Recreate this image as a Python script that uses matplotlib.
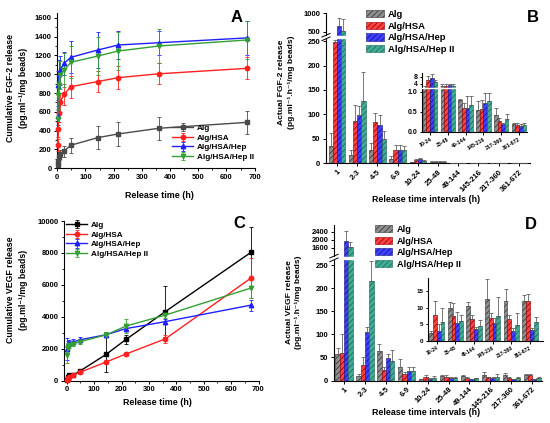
import numpy as np
import matplotlib
matplotlib.use('Agg')
import matplotlib.pyplot as plt
from matplotlib.ticker import AutoMinorLocator, FixedLocator

plt.rcParams['font.family'] = ['Liberation Sans', 'DejaVu Sans']
plt.rcParams['font.weight'] = 'bold'
plt.rcParams['axes.labelweight'] = 'bold'
plt.rcParams['hatch.linewidth'] = 0.55
plt.rcParams['axes.linewidth'] = 0.8

# ---- data ----
series = ['Alg', 'Alg/HSA', 'Alg/HSA/Hep', 'Alg/HSA/Hep II']
times = [1, 3, 5, 9, 24, 48, 144, 216, 360, 672]
intervals = ['1', '2-3', '4-5', '6-9', '10-24', '25-48', '49-144', '145-216', '217-360', '361-672']

# A: cumulative FGF-2
fgf_alg = [35, 70, 120, 155, 182, 245, 326, 365, 425, 488]
fgf_hsa = [248, 414, 584, 700, 786, 867, 922, 963, 1004, 1062]
fgf_hep = [560, 880, 1000, 1040, 1115, 1179, 1257, 1310, 1334, 1385]
fgf_hep2 = [520, 780, 880, 990, 1040, 1126, 1193, 1246, 1299, 1363]
fgf_alg_err = [20, 25, 30, 35, 60, 80, 124, 130, 125, 120]
fgf_hsa_err = [60, 80, 90, 100, 110, 115, 115, 120, 110, 117]
fgf_hep_err = [100, 150, 150, 150, 120, 170, 190, 150, 130, 180]
fgf_hep2_err = [100, 150, 150, 150, 180, 170, 200, 200, 180, 200]

# B: FGF-2 release rate
rate_fgf_alg = [34, 17, 27, 8, 1.6, 2.6, 0.80, 0.56, 0.42, 0.20]
rate_fgf_hsa = [248, 86, 84, 27, 5.8, 2.8, 0.60, 0.58, 0.28, 0.18]
rate_fgf_hep = [660, 99, 77, 27, 7.2, 3.0, 0.60, 0.72, 0.19, 0.16]
rate_fgf_hep2 = [520, 127, 49, 26, 4.9, 2.5, 0.68, 0.77, 0.33, 0.18]
rate_fgf_alg_err = [28, 10, 15, 6, 1, 1, 0.03, 0.22, 0.18, 0.03]
rate_fgf_hsa_err = [30, 32, 19, 9, 2.4, 1, 0.12, 0.22, 0.07, 0.04]
rate_fgf_hep_err = [210, 17, 22, 9, 2.5, 1, 0.30, 0.26, 0.03, 0.05]
rate_fgf_hep2_err = [320, 59, 16, 8, 1, 1, 0.22, 0.20, 0.12, 0.05]

# C: cumulative VEGF
vegf_alg = [58, 80, 205, 330, 365, 600, 1650, 2580, 4330, 8030]
vegf_hsa = [60, 125, 170, 230, 347, 527, 1170, 1670, 2620, 6420]
vegf_hep = [2000, 2210, 2310, 2390, 2430, 2560, 2880, 3260, 3700, 4730]
vegf_hep2 = [1600, 2050, 2140, 2220, 2300, 2440, 2870, 3420, 4110, 5800]
vegf_alg_err = [30, 40, 50, 60, 80, 100, 1100, 300, 1600, 1600]
vegf_hsa_err = [50, 60, 60, 80, 100, 100, 150, 150, 250, 1250]
vegf_hep_err = [700, 150, 150, 150, 150, 150, 150, 150, 150, 350]
vegf_hep2_err = [500, 150, 150, 150, 150, 150, 150, 450, 200, 600]

# D: VEGF release rate
rate_vegf_alg = [58, 10, 65, 30, 2.5, 10.1, 10.6, 12.8, 12.1, 12.0]
rate_vegf_hsa = [60, 33, 22, 15, 7.8, 7.5, 6.5, 7.0, 6.5, 12.1]
rate_vegf_hep = [1950, 105, 49, 20, 3.0, 5.3, 3.5, 5.3, 3.0, 3.3]
rate_vegf_hep2 = [1620, 216, 42, 20, 5.6, 6.0, 4.6, 7.6, 4.8, 5.6]
rate_vegf_alg_err = [13, 5, 15, 17, 0.5, 1.7, 1.2, 6.0, 3.5, 1.8]
rate_vegf_hsa_err = [40, 18, 7, 3, 4.2, 4.1, 1.3, 1.3, 1.3, 2.2]
rate_vegf_hep_err = [500, 12, 9, 9, 2.0, 3.3, 0.8, 1.5, 0.8, 0.5]
rate_vegf_hep2_err = [250, 46, 25, 9, 4.4, 1.8, 1.7, 5.7, 3.5, 1.7]

line_colors_a = ['#4a4a4a', '#ff2020', '#1f1fff', '#33a033']
line_colors_c = ['#000000', '#ff2020', '#1f1fff', '#33a033']
markers = ['s', 'o', '^', 'v']
bar_faces = ['#8f8f8f', '#ff4040', '#4040ff', '#42ad96']
bar_hatch = ['#333333', '#900000', '#14148a', '#1a6656']

W, H = 550, 423
fig = plt.figure(figsize=(W / 100, H / 100), dpi=100)


def px_axes(l, t, r, b):
    return fig.add_axes([l / W, 1 - b / H, (r - l) / W, (b - t) / H])


def piecewise(xp, fp):
    xp = np.asarray(xp, float)
    fp = np.asarray(fp, float)

    def mk(a, b):
        def f(v):
            v = np.asarray(v, float)
            out = np.interp(v, a, b)
            s0 = (b[1] - b[0]) / (a[1] - a[0])
            s1 = (b[-1] - b[-2]) / (a[-1] - a[-2])
            out = np.where(v < a[0], b[0] + (v - a[0]) * s0, out)
            out = np.where(v > a[-1], b[-1] + (v - a[-1]) * s1, out)
            return out
        return f
    return mk(xp, fp), mk(fp, xp)


def style(ax, size=5.5, minor=True):
    for s in ['top', 'right']:
        ax.spines[s].set_visible(False)
    ax.tick_params(direction='out', length=2.5, width=0.7, labelsize=size, pad=1.5)
    ax.tick_params(which='minor', direction='out', length=1.4, width=0.6)
    if minor:
        ax.xaxis.set_minor_locator(AutoMinorLocator(2))
        ax.yaxis.set_minor_locator(AutoMinorLocator(2))
    for lab in ax.get_xticklabels() + ax.get_yticklabels():
        lab.set_fontweight('bold')


def ftext(x, y, s, **kw):
    fig.text(x / W, 1 - y / H, s, **kw)


def line_panel(ax, ys, errs, colors):
    for y, e, c, m, lab in zip(ys, errs, colors, markers, series):
        ax.errorbar(times, y, yerr=e, color=c, marker=m, ms=3.2, lw=1.0,
                    elinewidth=0.6, capsize=1.6, capthick=0.6, label=lab,
                    clip_on=False, zorder=3)


def bar_panel(ax, vals, errs, idx, width=0.205):
    x = np.arange(len(idx))
    for k, (v, e) in enumerate(zip(vals, errs)):
        v = np.asarray(v)[idx]
        e = np.asarray(e)[idx]
        pos = x + (k - 1.5) * width
        ax.bar(pos, v, width, color=bar_faces[k], edgecolor=bar_hatch[k],
               hatch='//////', lw=0.4, label=series[k], zorder=2)
        ax.errorbar(pos, v, yerr=[np.zeros_like(e), e], fmt='none', ecolor='#555555',
                    elinewidth=0.55, capsize=1.3, capthick=0.55, zorder=3)
    return x


def break_mark(ax, yb):
    ax.add_patch(plt.Rectangle((0, yb - 0.007), 1, 0.014, transform=ax.transAxes,
                               color='white', zorder=6, clip_on=False))
    for d in (-0.012, 0.012):
        ax.plot([-0.02, 0.02], [yb + d - 0.012, yb + d + 0.012], transform=ax.transAxes,
                color='black', lw=0.7, clip_on=False, zorder=7)


def bar_legend(ax, x, y, size):
    leg = ax.legend(loc='upper left', bbox_to_anchor=(x / W, 1 - y / H), bbox_transform=fig.transFigure,
                    frameon=False, fontsize=size, handlelength=1.9, handleheight=0.8,
                    handletextpad=0.45, labelspacing=0.28, borderaxespad=0, borderpad=0)
    leg.set_zorder(20)


# ---- A ----
axA = px_axes(57.3, 13, 254.6, 168.3)
line_panel(axA, [fgf_alg, fgf_hsa, fgf_hep, fgf_hep2],
           [fgf_alg_err, fgf_hsa_err, fgf_hep_err, fgf_hep2_err], line_colors_a)
axA.set_xlim(0, 700)
axA.set_ylim(0, 1650)
axA.set_xticks(range(0, 701, 100))
axA.set_yticks(range(0, 1601, 200))
style(axA)
axA.legend(loc='upper left', bbox_to_anchor=(172 / W, 1 - 124 / H), bbox_transform=fig.transFigure,
           frameon=False, fontsize=5.9, handlelength=2.6, handletextpad=0.4,
           labelspacing=0.25, borderaxespad=0, borderpad=0)
ftext(159, 195, 'Release time (h)', ha='center', va='center', fontsize=6.4)
ftext(17, 88, 'Cumulative FGF-2 release\n(pg.ml\u207b\u00b9/mg beads)', rotation=90,
      ha='center', va='center', fontsize=6.3, linespacing=1.5)
ftext(237, 17, 'A', ha='center', va='center', fontsize=12)

# ---- C ----
axC = px_axes(64, 221, 258.5, 380.7)
line_panel(axC, [vegf_alg, vegf_hsa, vegf_hep, vegf_hep2],
           [vegf_alg_err, vegf_hsa_err, vegf_hep_err, vegf_hep2_err], line_colors_c)
axC.set_xlim(-10, 700)
axC.set_ylim(0, 10000)
axC.set_xticks(range(0, 701, 100))
axC.set_yticks(range(0, 10001, 2000))
style(axC)
axC.legend(loc='upper left', bbox_to_anchor=(66 / W, 1 - 221 / H), bbox_transform=fig.transFigure,
           frameon=False, fontsize=5.9, handlelength=2.6, handletextpad=0.4,
           labelspacing=0.25, borderaxespad=0, borderpad=0)
ftext(157, 402, 'Release time (h)', ha='center', va='center', fontsize=6.4)
ftext(17, 290, 'Cumulative VEGF release\n(pg.ml\u207b\u00b9/mg beads)', rotation=90,
      ha='center', va='center', fontsize=6.3, linespacing=1.5)
ftext(239, 223, 'C', ha='center', va='center', fontsize=12)

# ---- B ----
axB = px_axes(326, 13, 530, 163)
fwdB, invB = piecewise([0, 250, 1000], [0, 250, 307.75])
axB.set_yscale('function', functions=(fwdB, invB))
all_idx = list(range(10))
xb = bar_panel(axB, [rate_fgf_alg, rate_fgf_hsa, rate_fgf_hep, rate_fgf_hep2],
               [rate_fgf_alg_err, rate_fgf_hsa_err, rate_fgf_hep_err, rate_fgf_hep2_err], all_idx)
axB.set_xlim(-0.545, 9.55)
axB.set_ylim(0, 1000)
axB.yaxis.set_major_locator(FixedLocator([0, 50, 100, 150, 200, 250, 500, 1000]))
style(axB, minor=False)
axB.set_xticks(xb)
axB.set_xticklabels(intervals, rotation=45, ha='right', rotation_mode='anchor', fontweight='bold')
break_mark(axB, 0.84)
bar_legend(axB, 366, 10, 6.8)
ftext(426, 199, 'Release time intervals (h)', ha='center', va='center', fontsize=6.4)
ftext(286.5, 82, 'Actual FGF-2 release\n(pg.ml\u207b\u00b9.h\u207b\u00b9/mg beads)', rotation=90,
      ha='center', va='center', fontsize=6.1, linespacing=1.35)
ftext(533, 17, 'B', ha='center', va='center', fontsize=12)

# B inset
axBi = px_axes(422, 73, 527, 132)
axBi.patch.set_alpha(0)
fwdBi, invBi = piecewise([0, 1.1, 1.7, 10], [0, 1.1, 1.11, 1.11 + 8.3 * 0.04375])
axBi.set_yscale('function', functions=(fwdBi, invBi))
small_idx = list(range(4, 10))
xbi = bar_panel(axBi, [rate_fgf_alg, rate_fgf_hsa, rate_fgf_hep, rate_fgf_hep2],
                [rate_fgf_alg_err, rate_fgf_hsa_err, rate_fgf_hep_err, rate_fgf_hep2_err], small_idx)
axBi.set_xlim(-0.45, 5.45)
axBi.set_ylim(0, 10)
axBi.yaxis.set_major_locator(FixedLocator([0, 0.5, 1.0, 4, 8]))
axBi.set_yticklabels(['0.0', '0.5', '1.0', '4', '8'])
style(axBi, size=5, minor=False)
axBi.set_xticks(xbi)
axBi.set_xticklabels(intervals[4:], rotation=30, ha='right', rotation_mode='anchor',
                     fontsize=3.8, fontweight='bold')
axBi.tick_params(length=1.8)
axBi.axhline(1.2, color='white', lw=1.0, zorder=6)

# ---- D ----
axD = px_axes(334, 225, 542, 380.5)
fwdD, invD = piecewise([0, 260, 1000, 3000], [0, 260, 262, 262 + 2000 * 0.043])
axD.set_yscale('function', functions=(fwdD, invD))
xd = bar_panel(axD, [rate_vegf_alg, rate_vegf_hsa, rate_vegf_hep, rate_vegf_hep2],
               [rate_vegf_alg_err, rate_vegf_hsa_err, rate_vegf_hep_err, rate_vegf_hep2_err], all_idx)
axD.set_xlim(-0.48, 9.47)
axD.set_ylim(0, 2744)
axD.yaxis.set_major_locator(FixedLocator([0, 50, 100, 150, 200, 250, 1600, 2000, 2400]))
style(axD, minor=False)
axD.set_xticks(xd)
axD.set_xticklabels(intervals, rotation=45, ha='right', rotation_mode='anchor', fontweight='bold')
break_mark(axD, 0.788)
bar_legend(axD, 375, 225, 6.6)
ftext(426, 412, 'Release time intervals (h)', ha='center', va='center', fontsize=6.4)
ftext(294, 302, 'Actual VEGF release\n(pg.ml\u207b\u00b9.h\u207b\u00b9/mg beads)', rotation=90,
      ha='center', va='center', fontsize=6.1, linespacing=1.35)
ftext(531, 224, 'D', ha='center', va='center', fontsize=12)

# D inset
axDi = px_axes(428, 278, 543, 341)
axDi.patch.set_alpha(0)
xdi = bar_panel(axDi, [rate_vegf_alg, rate_vegf_hsa, rate_vegf_hep, rate_vegf_hep2],
                [rate_vegf_alg_err, rate_vegf_hsa_err, rate_vegf_hep_err, rate_vegf_hep2_err], small_idx)
axDi.set_xlim(-0.47, 5.7)
axDi.set_ylim(0, 19)
axDi.set_yticks([0, 5, 10, 15])
style(axDi, size=4.5, minor=False)
axDi.set_xticks(xdi)
axDi.set_xticklabels(intervals[4:], rotation=30, ha='right', rotation_mode='anchor',
                     fontsize=3.6, fontweight='bold')
axDi.tick_params(length=1.8)

fig.savefig('out.png', dpi=100)
